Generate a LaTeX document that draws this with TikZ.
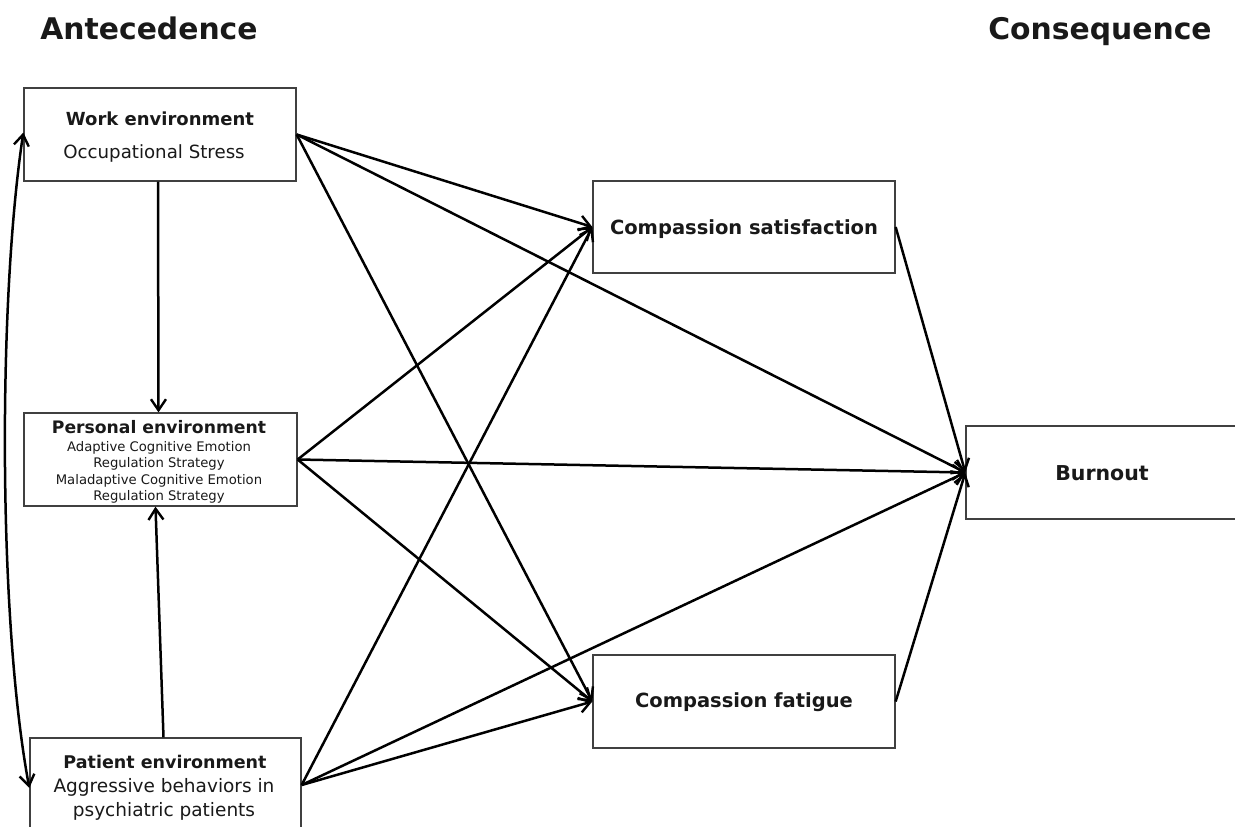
\documentclass[tikz,border=0pt]{standalone}
\usepackage{fontspec}
\setmainfont{DejaVu Sans}
\usetikzlibrary{arrows.meta}
\tikzset{
  box/.style={draw=black!75, line width=1.3pt, fill=white, inner sep=0pt},
  txt/.style={inner sep=0pt, text height=0.75em, text depth=0.2em, text=black!90},
  conn/.style={line width=2.5pt, -{Straight Barb[length=11pt,width=15pt,line width=2.4pt]}},
  dconn/.style={line width=2.5pt, {Straight Barb[length=11pt,width=15pt,line width=2.4pt]}-{Straight Barb[length=11pt,width=15pt,line width=2.4pt]}},
  head/.style={txt, font=\fontsize{29.8}{34}\bfseries\selectfont},
  bt/.style={txt, font=\fontsize{#1}{#1}\bfseries\selectfont},
  rt/.style={txt, font=\fontsize{#1}{#1}\selectfont},
}
\begin{document}
\begin{tikzpicture}[x=1pt,y=-1pt]
\useasboundingbox (0,0) rectangle (1235,827);
\clip (0,0) rectangle (1235,827);
\fill[white] (0,0) rectangle (1235,827);
\node[head] (ante) at (149,37) {Antecedence};
\node[head] (cons) at (1100,37) {Consequence};

\node[box, minimum width=272pt, minimum height=93pt] (work) at (160,134.5) {};
\node[bt=18] (workT) at (160,123) {Work environment};
\node[rt=18.2] (workS) at (154,156) {Occupational Stress};

\node[box, minimum width=273pt, minimum height=93pt] (pers) at (160.5,459.5) {};
\node[bt=17.2] (persT) at (159,431) {Personal environment};
\node[rt=13.2] (persA) at (159,448.5) {Adaptive Cognitive Emotion};
\node[rt=13.2] (persB) at (159,465) {Regulation Strategy};
\node[rt=13.2] (persC) at (159,481.5) {Maladaptive Cognitive Emotion};
\node[rt=13.2] (persD) at (159,498) {Regulation Strategy};

\node[box, minimum width=271pt, minimum height=94pt] (pat) at (165.5,785) {};
\node[bt=17.5] (patT) at (165,766) {Patient environment};
\node[rt=18.5] (patA) at (164,790) {Aggressive behaviors in};
\node[rt=18.5] (patB) at (164,814) {psychiatric patients};

\node[box, minimum width=302pt, minimum height=92pt] (cs) at (744,227) {};
\node[bt=19.5] (csT) at (744,232) {Compassion satisfaction};
\node[box, minimum width=302pt, minimum height=93pt] (cf) at (744,701.5) {};
\node[bt=19.5] (cfT) at (744,705) {Compassion fatigue};
\node[box, minimum width=280pt, minimum height=93pt] (burn) at (1106,472.5) {};
\node[bt=20.5] (burnT) at (1102,478) {Burnout};

\draw[conn] ([xshift=-2pt]work.south) -- ([xshift=-2pt]pers.north);
\draw[conn] ([xshift=-2pt]pat.north) -- ([xshift=-5pt]pers.south);
\draw[dconn] ([yshift=2pt]work.west) .. controls (-2,300) and (-2,620) .. ([yshift=-3pt]pat.west);

\foreach \s in {work,pers,pat}{
  \draw[conn] (\s.east) -- (cs.west);
  \draw[conn] (\s.east) -- (burn.west);
  \draw[conn] (\s.east) -- (cf.west);
}
\draw[conn] (cs.east) -- (burn.west);
\draw[conn] (cf.east) -- (burn.west);
\end{tikzpicture}
\end{document}
